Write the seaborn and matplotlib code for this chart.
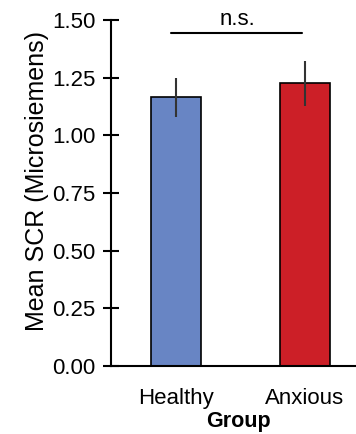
import pandas as pd
import numpy as np
import matplotlib
matplotlib.use("Agg")
import matplotlib.pyplot as plt
import seaborn as sns

# Values
groups = ["Healthy", "Anxious"]
mean_scr = [1.165, 1.225]
sem_scr = [0.085, 0.097]
bar_colors = ["#6885C4", "#CC1F27"]
y_ticks = [0.00, 0.25, 0.50, 0.75, 1.00, 1.25, 1.50]
sig_label = "n.s."
sig_height = 1.445

sns.set_style("white")
plt.rcParams['font.family'] = ['Liberation Sans', 'DejaVu Sans']
plt.rcParams['text.color'] = 'black'
plt.rcParams['axes.labelcolor'] = 'black'
plt.rcParams['xtick.color'] = 'black'
plt.rcParams['ytick.color'] = 'black'

df = pd.DataFrame({"Group": groups, "SCR": mean_scr})

fig = plt.figure(figsize=(3.56, 4.34), dpi=100)
ax = fig.add_axes([0.312, 0.157, 0.688, 0.797])

sns.barplot(data=df, x="Group", y="SCR", hue="Group", palette=bar_colors,
            saturation=1, width=0.39, edgecolor="black", linewidth=1.2,
            legend=False, ax=ax)
ax.errorbar(range(len(groups)), mean_scr, yerr=sem_scr, fmt="none",
            ecolor="#333333", elinewidth=1.5, capsize=0)

# significance bar
ax.plot([0 - 0.04, 1 - 0.02], [sig_height, sig_height], color="black", lw=1.5,
        clip_on=False)
ax.text(0.48, sig_height + 0.012, sig_label, ha="center", va="bottom",
        fontsize=16)

ax.set_ylim(0, 1.5)
ax.set_xlim(-0.506, 1.40)
ax.set_yticks(y_ticks)
ax.set_yticklabels([f"{t:.2f}" for t in y_ticks], fontsize=16)
ax.tick_params(axis="y", direction="inout", length=12, width=1.5, left=True,
               pad=5)
ax.tick_params(axis="x", length=0, labelsize=16, pad=16)
ax.set_ylabel("Mean SCR (Microsiemens)", fontsize=18)
ax.yaxis.set_label_coords(-0.255, 0.535)
ax.set_xlabel("Group", fontsize=15.5, fontweight="bold")
ax.xaxis.set_label_coords(0.522, -0.13)

for side in ["top", "right"]:
    ax.spines[side].set_visible(False)
for side in ["left", "bottom"]:
    ax.spines[side].set_linewidth(1.5)
    ax.spines[side].set_color("black")

fig.savefig("out.png", dpi=100)
